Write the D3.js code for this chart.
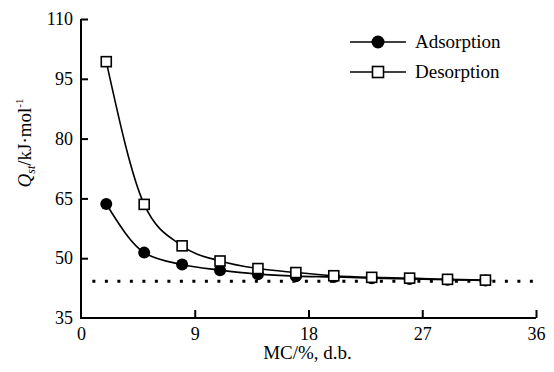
<!DOCTYPE html>
<head>
<meta charset="utf-8">
<style>
body { margin: 0; background: #fff; }
svg text { font-family: 'Liberation Serif', 'Times New Roman', Times, serif !important; fill: #000; }
.axis path, .axis line { stroke: #000; stroke-width: 2px; }
.series { fill: none; stroke: #000; stroke-width: 1.6px; }
</style>
</head>
<body>
<script src="https://cdn.jsdelivr.net/npm/d3@7"></script>
<script>

// moisture content (% d.b.)
var mc = [2, 5, 8, 11, 14, 17, 20, 23, 26, 29, 32];
// isosteric heat, kJ/mol
var adsorption = [63.6, 51.4, 48.4, 47.0, 46.0, 45.5, 45.3, 45.0, 44.8, 44.6, 44.4];
var desorption = [99.3, 63.5, 53.1, 49.3, 47.4, 46.4, 45.6, 45.2, 45.0, 44.7, 44.5];
var asymptote = 44.2;
var xTicks = [0, 9, 18, 27, 36];
var yTicks = [35, 50, 65, 80, 95, 110];

var width = 554, height = 372;
var mLeft = 81, mRight = 536, mTop = 19, mBottom = 318;

var svg = d3.select("body").append("svg")
    .attr("width", width)
    .attr("height", height)
    .attr("font-family", "Liberation Serif");

var x = d3.scaleLinear().domain([0, 36]).range([mLeft, mRight]);
var y = d3.scaleLinear().domain([35, 110]).range([mBottom, mTop]);

// axes, ticks pointing inside
var xAxis = svg.append("g")
    .attr("class", "axis")
    .attr("transform", "translate(0," + mBottom + ")")
    .call(d3.axisBottom(x).tickValues(xTicks).tickSizeInner(-8).tickSizeOuter(0).tickPadding(9));

var yAxis = svg.append("g")
    .attr("class", "axis")
    .attr("transform", "translate(" + mLeft + ",0)")
    .call(d3.axisLeft(y).tickValues(yTicks).tickSizeInner(-7).tickSizeOuter(0).tickPadding(8));

svg.selectAll(".axis").attr("font-family", "Liberation Serif").attr("font-size", 18);
yAxis.select(".tick:first-of-type line").remove();
xAxis.select(".tick:first-of-type line").remove();
// make the corner meet cleanly
xAxis.select("path").attr("d", "M-1,0H" + (mRight - mLeft)).attr("transform", "translate(" + mLeft + ",0)");
yAxis.select("path").attr("d", "M0," + mTop + "V" + (mBottom + 1));

// dotted asymptote
svg.append("line")
    .attr("x1", x(0.9)).attr("x2", x(35.8))
    .attr("y1", y(asymptote)).attr("y2", y(asymptote))
    .attr("stroke", "#000")
    .attr("stroke-width", 3)
    .attr("stroke-dasharray", "3,9.5");

var line = d3.line()
    .x(function(d) { return x(d[0]); })
    .y(function(d) { return y(d[1]); })
    .curve(d3.curveMonotoneX);

var adsData = mc.map(function(m, i) { return [m, adsorption[i]]; });
var desData = mc.map(function(m, i) { return [m, desorption[i]]; });

svg.append("path").attr("class", "series").attr("d", line(adsData));
svg.append("path").attr("class", "series").attr("d", line(desData));

svg.append("g").selectAll("circle")
    .data(adsData)
    .enter().append("circle")
    .attr("cx", function(d) { return x(d[0]); })
    .attr("cy", function(d) { return y(d[1]); })
    .attr("r", 6)
    .attr("fill", "#000");

var sq = 10;
svg.append("g").selectAll("rect")
    .data(desData)
    .enter().append("rect")
    .attr("x", function(d) { return x(d[0]) - sq / 2; })
    .attr("y", function(d) { return y(d[1]) - sq / 2; })
    .attr("width", sq).attr("height", sq)
    .attr("fill", "#fff")
    .attr("stroke", "#000")
    .attr("stroke-width", 1.6);

// legend
var legend = svg.append("g");
[["Adsorption", 42], ["Desorption", 72]].forEach(function(item, i) {
  var ly = item[1];
  legend.append("line")
      .attr("x1", 350).attr("x2", 406)
      .attr("y1", ly).attr("y2", ly)
      .attr("stroke", "#000").attr("stroke-width", 1.6);
  if (i == 0) {
    legend.append("circle").attr("cx", 378).attr("cy", ly).attr("r", 6.5).attr("fill", "#000");
  } else {
    legend.append("rect").attr("x", 378 - 5.5).attr("y", ly - 5.5)
        .attr("width", 11).attr("height", 11)
        .attr("fill", "#fff").attr("stroke", "#000").attr("stroke-width", 1.6);
  }
  legend.append("text")
      .attr("x", 415).attr("y", ly + 6)
      .attr("font-size", 19)
      .text(item[0]);
});

// axis titles
svg.append("text")
    .attr("x", (mLeft + mRight) / 2 - 1)
    .attr("y", 359)
    .attr("text-anchor", "middle")
    .attr("font-size", 19)
    .text("MC/%, d.b.");

var yt = svg.append("text")
    .attr("transform", "translate(31,143) rotate(-90)")
    .attr("text-anchor", "middle")
    .attr("font-size", 19);
yt.append("tspan").attr("font-style", "italic").text("Q");
yt.append("tspan").attr("font-style", "italic").attr("font-size", 12).attr("dy", 4).text("st");
yt.append("tspan").attr("dy", -4).text("/kJ\u00b7mol");
yt.append("tspan").attr("font-size", 11).attr("dy", -8).text("-1");

</script>
</body>
</html>
